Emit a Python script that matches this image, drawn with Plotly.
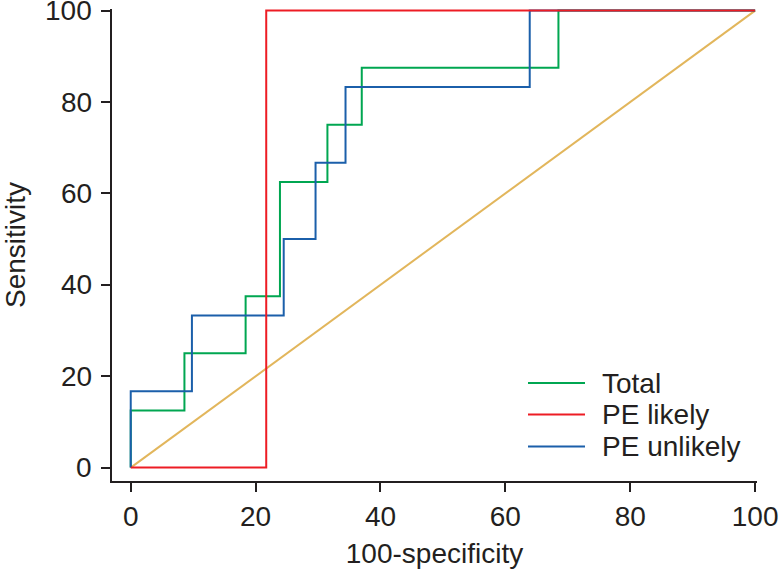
import plotly.graph_objects as go

# ROC step curves (x = 100-specificity, y = sensitivity)
total_x = [0, 0, 8.6, 8.6, 18.4, 18.4, 23.9, 23.9, 31.5, 31.5, 37.0, 37.0, 68.5, 68.5, 100]
total_y = [0, 12.5, 12.5, 25, 25, 37.5, 37.5, 62.5, 62.5, 75, 75, 87.5, 87.5, 100, 100]

likely_x = [0, 21.7, 21.7, 100]
likely_y = [0, 0, 100, 100]

unlikely_x = [0, 0, 9.8, 9.8, 24.5, 24.5, 29.6, 29.6, 34.4, 34.4, 63.9, 63.9, 100]
unlikely_y = [0, 16.7, 16.7, 33.3, 33.3, 50, 50, 66.7, 66.7, 83.3, 83.3, 100, 100]

ref_x = [0, 100]
ref_y = [0, 100]

tick_vals = [0, 20, 40, 60, 80, 100]
tick_text = ["0", "20", "40", "60", "80", "100"]
legend_names = ["Total", "PE likely", "PE unlikely"]

GREEN = "#00A651"
RED = "#ED1C24"
BLUE = "#1B5FAA"
TAN = "#E2B65C"
AXIS = "#231F20"
FONT = "Liberation Sans, Arial, sans-serif"
FS = 28

W, H = 779, 569
L, R, T, B = 112, 22, 9, 88
pw, ph = W - L - R, H - T - B


def px_to_paper(xpx, ypx):
    return (xpx - L) / pw, 1 - (ypx - T) / ph


fig = go.Figure()
fig.add_trace(go.Scatter(x=ref_x, y=ref_y, mode="lines",
                         line=dict(color=TAN, width=2), showlegend=False))
fig.add_trace(go.Scatter(x=total_x, y=total_y, mode="lines", name=legend_names[0],
                         line=dict(color=GREEN, width=2), showlegend=False))
fig.add_trace(go.Scatter(x=unlikely_x, y=unlikely_y, mode="lines", name=legend_names[2],
                         line=dict(color=BLUE, width=2), showlegend=False))
fig.add_trace(go.Scatter(x=likely_x, y=likely_y, mode="lines", name=legend_names[1],
                         line=dict(color=RED, width=2), showlegend=False))

# manual legend (long line samples like the reference)
legend_colors = [GREEN, RED, BLUE]
legend_rows_px = [383, 414.5, 446.5]
for name, col, ypx in zip(legend_names, legend_colors, legend_rows_px):
    x0, yp = px_to_paper(528, ypx)
    x1, _ = px_to_paper(585, ypx)
    xt, _ = px_to_paper(600, ypx)
    fig.add_shape(type="line", xref="paper", yref="paper", layer="above",
                  x0=x0, x1=x1, y0=yp, y1=yp, line=dict(color=col, width=2))
    fig.add_annotation(xref="paper", yref="paper", x=xt, y=yp,
                       text=name, showarrow=False, xanchor="left", yanchor="middle",
                       font=dict(family=FONT, size=FS, color=AXIS))

# y tick labels placed closer to the ticks, as in the reference
xlab, _ = px_to_paper(94, 0)
for v, t in zip(tick_vals, tick_text):
    fig.add_annotation(xref="paper", yref="y", x=xlab, y=v, text=t,
                       showarrow=False, xanchor="right", yanchor="middle",
                       font=dict(family=FONT, size=FS, color=AXIS))

axis_common = dict(
    tickvals=tick_vals, showgrid=False, zeroline=False,
    showline=True, linecolor=AXIS, linewidth=2,
    ticks="outside", ticklen=9, tickwidth=2, tickcolor=AXIS,
    tickfont=dict(family=FONT, size=FS, color=AXIS),
    automargin=False, ticklabeloverflow="allow",
)

fig.update_layout(
    width=W, height=H,
    margin=dict(l=L, r=R, t=T, b=B),
    paper_bgcolor="white", plot_bgcolor="white",
    font=dict(family=FONT, size=FS, color=AXIS),
    showlegend=False,
    xaxis=dict(range=[-3.0, 100.3], ticktext=tick_text,
               title=dict(text="100-specificity", font=dict(size=FS), standoff=13),
               **axis_common),
    yaxis=dict(range=[-2.93, 100.35], showticklabels=False,
               title=dict(text="Sensitivity", font=dict(size=FS), standoff=72),
               **axis_common),
)

fig.write_html("out.html", config={"displayModeBar": False},
               post_script="document.body.style.margin='0px';document.body.style.overflow='hidden';")
